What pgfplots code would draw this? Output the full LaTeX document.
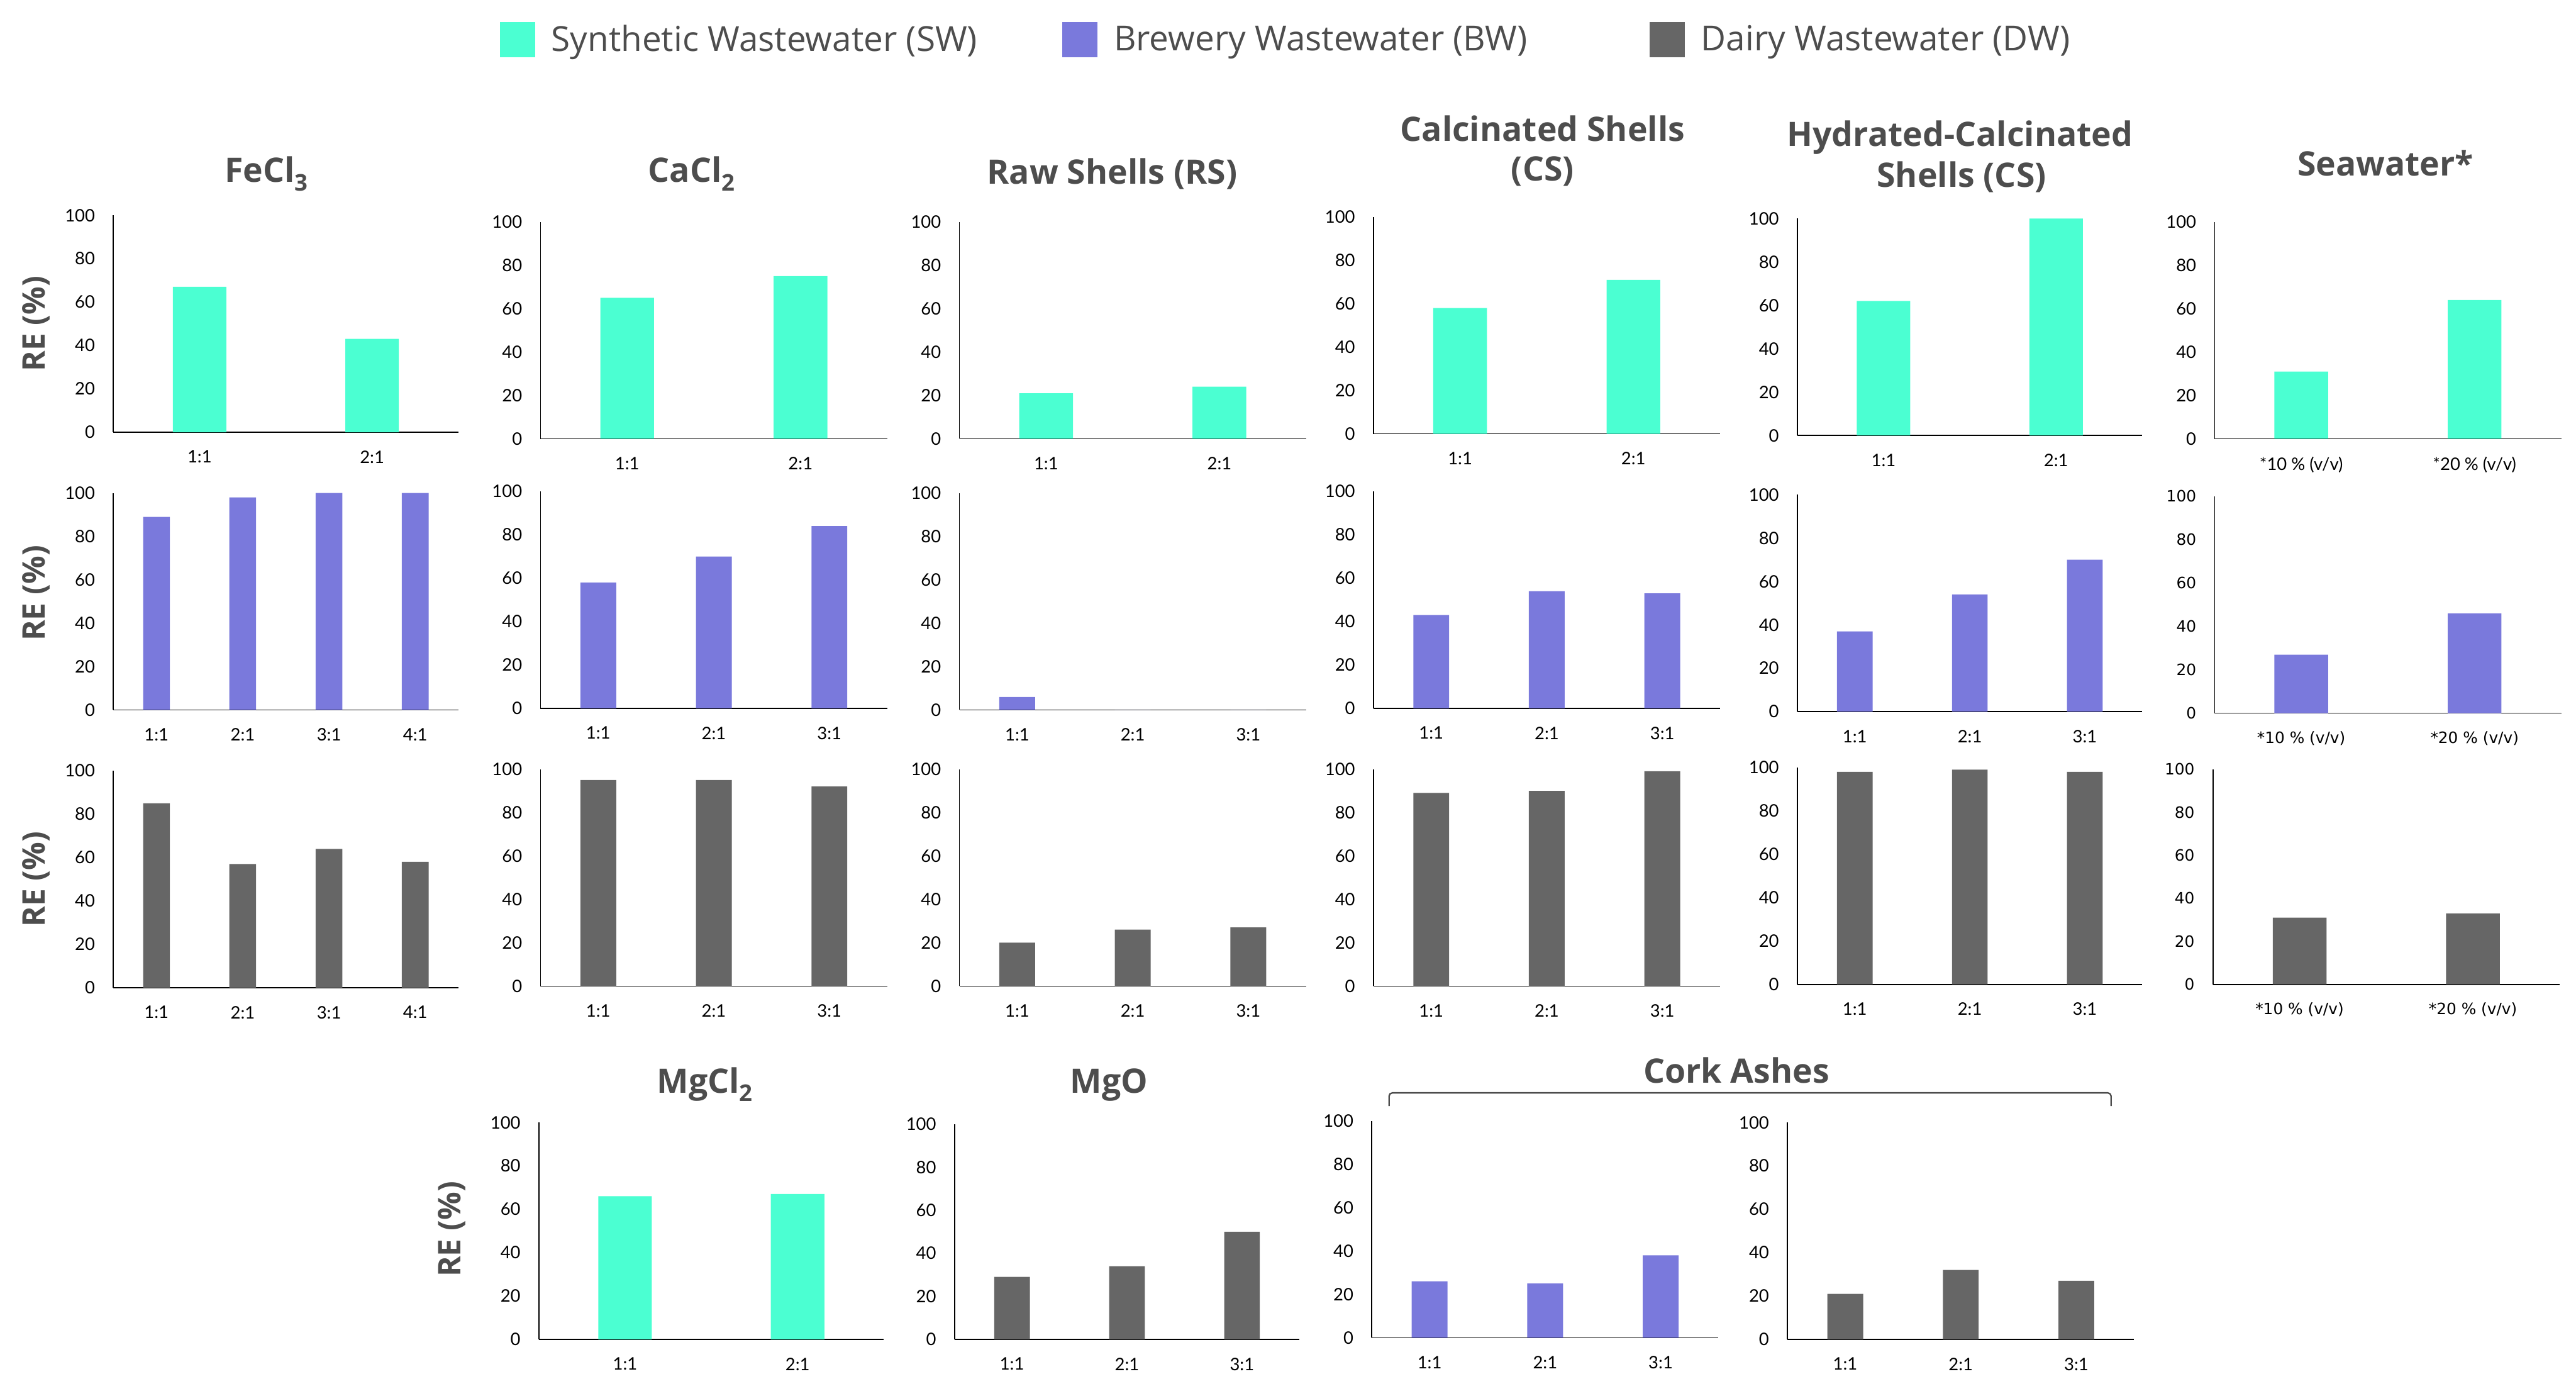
\documentclass[border=0pt]{standalone}
\usepackage{fontspec}
\setmainfont{Lato}
\newfontfamily\osans{Open Sans}
\newfontfamily\djv{DejaVu Sans}
\usepackage{pgfplots}
\pgfplotsset{compat=1.18}
\definecolor{cSW}{RGB}{75,255,210}
\definecolor{cBW}{RGB}{122,121,220}
\definecolor{cDW}{RGB}{102,102,102}
\definecolor{tgray}{RGB}{77,77,77}
\newcommand\tickfont{\fontsize{10.5}{12}\selectfont}
\newcommand\vfont{\djv\fontsize{9.5}{11}\selectfont}
\newcommand\ttl{\osans\bfseries\fontsize{20.5}{24}\selectfont}
\newcommand\relbl{\osans\bfseries\fontsize{19}{22}\selectfont}
\newcommand\sub[1]{\raisebox{-5pt}{\fontsize{14}{16}\selectfont #1}}
\pgfplotsset{
  panel/.style={
    scale only axis, anchor=south west,
    axis x line*=bottom, axis y line*=left,
    axis line style={black, line width=0.6pt},
    ymin=0, ymax=100, ytick={0,20,40,60,80,100},
    major tick length=0pt,
    tick label style={font=\tickfont, text=black},
    yticklabel style={anchor=east, inner sep=0pt, xshift=-11pt},
    xticklabel style={anchor=north, inner sep=0pt, yshift=-11pt},
    ybar, bar width=0.31,
    /pgf/number format/assume math mode=true,
    clip=false,
  },
  p2/.style={panel, xmin=-0.5, xmax=1.5, xtick={0,1}, xticklabels={1:1,2:1}},
  p3/.style={panel, xmin=-0.5, xmax=2.5, xtick={0,1,2}, xticklabels={1:1,2:1,3:1}},
  p4/.style={panel, xmin=-0.5, xmax=3.5, xtick={0,1,2,3}, xticklabels={1:1,2:1,3:1,4:1}},
  psea/.style={panel, xmin=-0.5, xmax=1.5, xtick={0,1}, xticklabels={*10 \% (v/v),*20 \% (v/v)}},
  pseav/.style={psea, tick label style={font=\vfont}},
}
\begin{document}
\begin{tikzpicture}
\useasboundingbox (0pt,0pt) rectangle (1568pt,836pt);

% legend
\begin{axis}[hide axis, scale only axis, width=1568pt, height=836pt, at={(0pt,0pt)}, anchor=south west,
  xmin=0, xmax=1, ymin=0, ymax=1,
  legend columns=3,
  legend style={draw=none, fill=none, inner sep=0pt, at={(304/1568,812/836)}, anchor=west,
    font=\osans\fontsize{21}{24}\selectfont, text=tgray,
    nodes={inner sep=0pt, anchor=west},
    /tikz/every odd column/.style={column sep=10pt},
    /tikz/every even column/.style={column sep=0pt}}]
\addlegendimage{legend image code/.code={\fill[cSW] (0pt,-10.5pt) rectangle (21pt,10.5pt);}}
\addlegendentry{\makebox[311pt][l]{Synthetic Wastewater (SW)}}
\addlegendimage{legend image code/.code={\fill[cBW] (0pt,-10.5pt) rectangle (21pt,10.5pt);}}
\addlegendentry{\makebox[326pt][l]{Brewery Wastewater (BW)}}
\addlegendimage{legend image code/.code={\fill[cDW] (0pt,-10.5pt) rectangle (21pt,10.5pt);}}
\addlegendentry{Dairy Wastewater (DW)}
\end{axis}

% titles
\node[font=\ttl, text=tgray, anchor=base] at (162pt,725pt) {FeCl\sub{3}};
\node[font=\ttl, text=tgray, anchor=base] at (421pt,725pt) {CaCl\sub{2}};
\node[font=\ttl, text=tgray, anchor=base] at (677pt,724pt) {Raw Shells (RS)};
\node[font=\ttl, text=tgray, anchor=base] at (939pt,750pt) {Calcinated Shells};
\node[font=\ttl, text=tgray, anchor=base] at (939pt,726pt) {(CS)};
\node[font=\ttl, text=tgray, anchor=base] at (1193pt,747pt) {Hydrated-Calcinated};
\node[font=\ttl, text=tgray, anchor=base] at (1194pt,722pt) {Shells (CS)};
\node[font=\ttl, text=tgray, anchor=base] at (1452pt,729pt) {Seawater*};
\node[font=\ttl, text=tgray, anchor=base] at (429pt,171pt) {MgCl\sub{2}};
\node[font=\ttl, text=tgray, anchor=base] at (675pt,171pt) {MgO};
\node[font=\ttl, text=tgray, anchor=base] at (1057pt,177pt) {Cork Ashes};
\draw[line width=0.9pt, color=black!70, rounded corners=2pt] (845.5pt,163pt) -- (845.5pt,171pt) -- (1285pt,171pt) -- (1285pt,163pt);

% y labels
\node[font=\relbl, text=tgray, rotate=90] at (22pt,639pt) {RE (\%)};
\node[font=\relbl, text=tgray, rotate=90] at (22pt,475pt) {RE (\%)};
\node[font=\relbl, text=tgray, rotate=90] at (22pt,301pt) {RE (\%)};
\node[font=\relbl, text=tgray, rotate=90] at (275pt,88pt) {RE (\%)};

% ---------- Row 1: SW ----------
\begin{axis}[p2, at={(69pt,573pt)}, width=210pt, height=132pt]
\addplot[fill=cSW, draw=none] coordinates {(0,67) (1,43)};
\end{axis}
\begin{axis}[p2, at={(329pt,569pt)}, width=211pt, height=132pt]
\addplot[fill=cSW, draw=none] coordinates {(0,65) (1,75)};
\end{axis}
\begin{axis}[p2, at={(584pt,569pt)}, width=211pt, height=132pt]
\addplot[fill=cSW, draw=none] coordinates {(0,21) (1,24)};
\end{axis}
\begin{axis}[p2, at={(836pt,572pt)}, width=211pt, height=132pt]
\addplot[fill=cSW, draw=none] coordinates {(0,58) (1,71)};
\end{axis}
\begin{axis}[p2, at={(1094pt,571pt)}, width=210pt, height=132pt]
\addplot[fill=cSW, draw=none] coordinates {(0,62) (1,100)};
\end{axis}
\begin{axis}[psea, at={(1348pt,569pt)}, width=211pt, height=132pt]
\addplot[fill=cSW, draw=none] coordinates {(0,31) (1,64)};
\end{axis}

% ---------- Row 2: BW ----------
\begin{axis}[p4, at={(69pt,404pt)}, width=210pt, height=132pt]
\addplot[fill=cBW, draw=none] coordinates {(0,89) (1,98) (2,100) (3,100)};
\end{axis}
\begin{axis}[p3, at={(329pt,405pt)}, width=211pt, height=132pt]
\addplot[fill=cBW, draw=none] coordinates {(0,58) (1,70) (2,84)};
\end{axis}
\begin{axis}[p3, at={(584pt,404pt)}, width=211pt, height=132pt]
\addplot[fill=cBW, draw=none] coordinates {(0,6) (1,0) (2,0)};
\end{axis}
\begin{axis}[p3, at={(836pt,405pt)}, width=211pt, height=132pt]
\addplot[fill=cBW, draw=none] coordinates {(0,43) (1,54) (2,53)};
\end{axis}
\begin{axis}[p3, at={(1094pt,403pt)}, width=210pt, height=132pt]
\addplot[fill=cBW, draw=none] coordinates {(0,37) (1,54) (2,70)};
\end{axis}
\begin{axis}[pseav, at={(1348pt,402pt)}, width=211pt, height=132pt]
\addplot[fill=cBW, draw=none] coordinates {(0,27) (1,46)};
\end{axis}

% ---------- Row 3: DW ----------
\begin{axis}[p4, at={(69pt,235pt)}, width=210pt, height=132pt]
\addplot[fill=cDW, draw=none] coordinates {(0,85) (1,57) (2,64) (3,58)};
\end{axis}
\begin{axis}[p3, at={(329pt,236pt)}, width=211pt, height=132pt]
\addplot[fill=cDW, draw=none] coordinates {(0,95) (1,95) (2,92)};
\end{axis}
\begin{axis}[p3, at={(584pt,236pt)}, width=211pt, height=132pt]
\addplot[fill=cDW, draw=none] coordinates {(0,20) (1,26) (2,27)};
\end{axis}
\begin{axis}[p3, at={(836pt,236pt)}, width=211pt, height=132pt]
\addplot[fill=cDW, draw=none] coordinates {(0,89) (1,90) (2,99)};
\end{axis}
\begin{axis}[p3, at={(1094pt,237pt)}, width=210pt, height=132pt]
\addplot[fill=cDW, draw=none] coordinates {(0,98) (1,99) (2,98)};
\end{axis}
\begin{axis}[pseav, at={(1347pt,237pt)}, width=211pt, height=131pt]
\addplot[fill=cDW, draw=none] coordinates {(0,31) (1,33)};
\end{axis}

% ---------- Row 4 ----------
\begin{axis}[p2, at={(328pt,21pt)}, width=210pt, height=132pt]
\addplot[fill=cSW, draw=none] coordinates {(0,66) (1,67)};
\end{axis}
\begin{axis}[p3, at={(581pt,21pt)}, width=210pt, height=131pt]
\addplot[fill=cDW, draw=none] coordinates {(0,29) (1,34) (2,50)};
\end{axis}
\begin{axis}[p3, at={(835pt,22pt)}, width=211pt, height=132pt]
\addplot[fill=cBW, draw=none] coordinates {(0,26) (1,25) (2,38)};
\end{axis}
\begin{axis}[p3, at={(1088pt,21pt)}, width=211pt, height=132pt]
\addplot[fill=cDW, draw=none] coordinates {(0,21) (1,32) (2,27)};
\end{axis}
\end{tikzpicture}
\end{document}
